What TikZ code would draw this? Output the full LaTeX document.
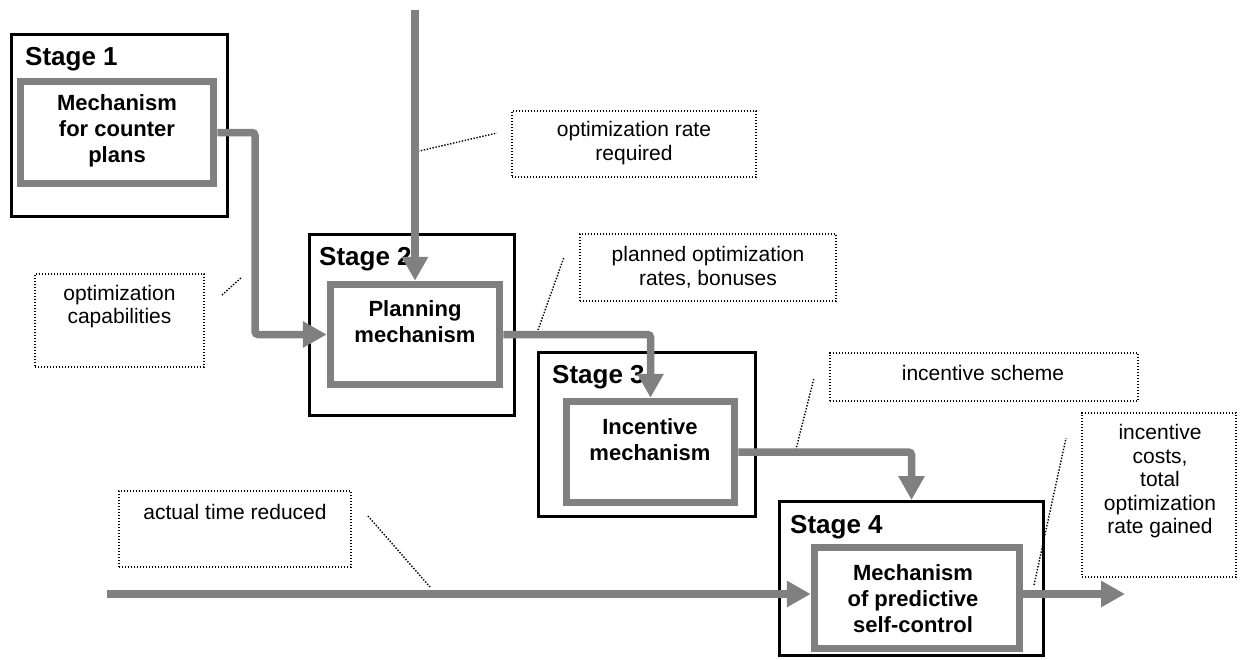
\documentclass[tikz,border=0pt]{standalone}
\usepackage{fontspec}
\setmainfont{Liberation Sans}
\usetikzlibrary{arrows.meta,calc}
\definecolor{mgray}{RGB}{128,128,128}
\begin{document}
\begin{tikzpicture}[x=1pt,y=-1pt,
  stagebox/.style={draw=black,line width=3pt,inner sep=0pt,rectangle},
  mechbox/.style={draw=mgray,line width=7.5pt,inner sep=0pt,rectangle},
  stagelbl/.style={font=\fontsize{26}{30}\selectfont\bfseries,anchor=base west,inner sep=0pt},
  mechtxt/.style={font=\fontsize{22}{26}\selectfont\bfseries,align=center,inner sep=0pt},
  lbltxt/.style={font=\fontsize{21}{23.5}\selectfont,align=center,inner sep=0pt},
  lblbox/.style={draw=black,line width=1.4pt,dash pattern=on 1.4pt off 1.6pt,inner sep=0pt,rectangle},
  leader/.style={line width=1.4pt,dash pattern=on 1.4pt off 1.6pt},
  arr/.style={draw=mgray,line width=7.5pt,-{Triangle[length=24pt,width=25pt]},rounded corners=3pt}
]
\useasboundingbox (0,0) rectangle (1241,659);

% Stage boxes
\node[stagebox,minimum width=216pt,minimum height=182pt] (s1out) at (119.5,125.5) {};
\node[mechbox,minimum width=193pt,minimum height=102pt] (s1in) at (117,132.5) {};
\node[stagelbl] (s1lbl) at (25,65.5) {Stage 1};
\node[mechtxt] (s1txt) at (117,131) {Mechanism\\for counter\\plans};

\node[stagebox,minimum width=205pt,minimum height=181pt] (s2out) at (412,325) {};
\node[mechbox,minimum width=169pt,minimum height=100pt] (s2in) at (415,334.5) {};
\node[stagelbl] (s2lbl) at (319,265.5) {Stage 2};
\node[mechtxt] (s2txt) at (415,322) {Planning\\mechanism};

\node[stagebox,minimum width=217pt,minimum height=164pt] (s3out) at (647,434.5) {};
\node[mechbox,minimum width=168pt,minimum height=101pt] (s3in) at (650.5,452) {};
\node[stagelbl] (s3lbl) at (552,383) {Stage 3};
\node[mechtxt] (s3txt) at (650,440) {Incentive\\mechanism};

\node[stagebox,minimum width=264pt,minimum height=154pt] (s4out) at (911.5,578.5) {};
\node[mechbox,minimum width=205pt,minimum height=101pt] (s4in) at (917,598) {};
\node[stagelbl] (s4lbl) at (790,533) {Stage 4};
\node[mechtxt] (s4txt) at (913,599) {Mechanism\\of predictive\\self-control};

% Label boxes
\node[lblbox,minimum width=244pt,minimum height=66pt] (l1) at (634,144) {};
\node[lbltxt] (l1t) at (634,143) {optimization rate\\required};
\node[lblbox,minimum width=256pt,minimum height=67pt] (l2) at (708,267.5) {};
\node[lbltxt] (l2t) at (708,267) {planned optimization\\rates, bonuses};
\node[lblbox,minimum width=169pt,minimum height=93pt] (l3) at (119.5,320.5) {};
\node[lbltxt] (l3t) at (119.5,306.5) {optimization\\capabilities};
\node[lblbox,minimum width=308pt,minimum height=48pt] (l4) at (984,377) {};
\node[lbltxt] (l4t) at (983,373) {incentive scheme};
\node[lblbox,minimum width=154pt,minimum height=164pt] (l5) at (1159,495) {};
\node[lbltxt] (l5t) at (1160,481.5) {incentive\\costs,\\total\\optimization\\rate gained};
\node[lblbox,minimum width=232pt,minimum height=76pt] (l6) at (235,529) {};
\node[lbltxt] (l6t) at (235,512) {actual time reduced};

% Leader lines
\coordinate (d1a) at (415,152); \coordinate (d1b) at (497,133);
\coordinate (d2a) at (538,330); \coordinate (d2b) at (564,257);
\coordinate (d3a) at (222,295); \coordinate (d3b) at (242,277);
\coordinate (d4a) at (795,453); \coordinate (d4b) at (814,378);
\coordinate (d5a) at (1034,585); \coordinate (d5b) at (1066,438);
\coordinate (d6a) at (368,516); \coordinate (d6b) at (430,587);
\draw[leader] (d1a) -- (d1b);
\draw[leader] (d2a) -- (d2b);
\draw[leader] (d3a) -- (d3b);
\draw[leader] (d4a) -- (d4b);
\draw[leader] (d5a) -- (d5b);
\draw[leader] (d6a) -- (d6b);

% Arrows
\coordinate (k1) at (255,0);
\coordinate (top) at (415,10);
\coordinate (in5) at (107,594);
\coordinate (out6) at (1125,594);
\draw[arr] (s1in.east) -| (k1 |- s2in.west) -- (s2in.west);
\draw[arr] (top) -- (s2in.north);
\draw[arr] (s2in.east) -| (s3in.north);
\draw[arr] (s3in.east) -| (s4out.north);
\draw[arr] (in5) -- (in5 -| s4in.west);
\draw[arr] (in5 -| s4in.east) -- (out6);
\end{tikzpicture}
\end{document}
